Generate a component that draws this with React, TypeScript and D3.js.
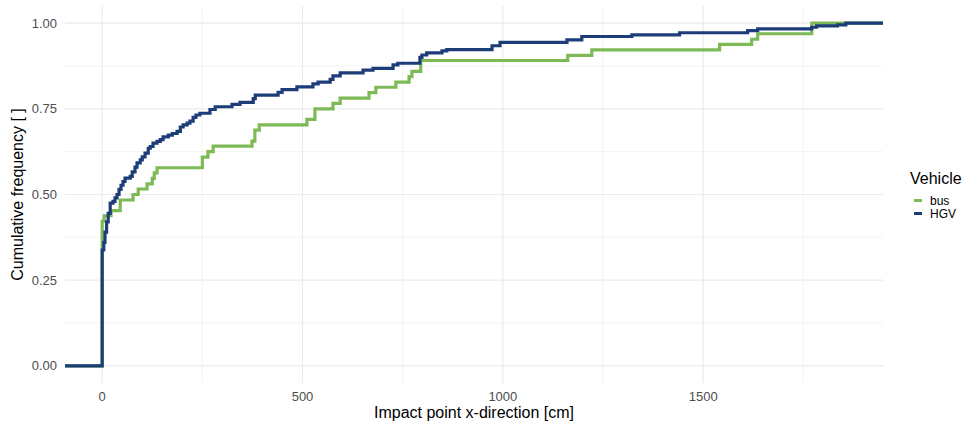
import { useEffect, useRef } from "react";
import * as d3 from "d3";

// ECDF break points (x in cm, cumulative share)
const busX = [0, 5, 22, 45, 77, 90, 112, 125, 130, 137, 250, 264, 277, 374, 381, 392, 511, 531, 576, 594, 666, 683, 733, 766, 773, 795, 1162, 1222, 1541, 1621, 1636, 1771];
const busF = [0.422, 0.438, 0.453, 0.484, 0.5, 0.516, 0.531, 0.547, 0.563, 0.578, 0.609, 0.625, 0.641, 0.656, 0.688, 0.703, 0.719, 0.75, 0.766, 0.781, 0.797, 0.813, 0.828, 0.844, 0.859, 0.891, 0.906, 0.922, 0.938, 0.953, 0.969, 1.0];

const hgvX = [0, 4, 7, 11, 15, 20, 27, 32, 37, 42, 47, 52, 57, 70, 75, 82, 87, 95, 100, 107, 115, 120, 127, 137, 145, 152, 165, 175, 187, 195, 202, 212, 219, 227, 234, 244, 269, 282, 324, 344, 377, 382, 439, 449, 486, 526, 539, 569, 576, 594, 651, 676, 726, 738, 793, 798, 810, 848, 860, 973, 993, 1160, 1197, 1322, 1441, 1611, 1636, 1771, 1783, 1835, 1856];
const hgvF = [0.338, 0.36, 0.39, 0.42, 0.445, 0.475, 0.48, 0.49, 0.5, 0.515, 0.527, 0.538, 0.548, 0.553, 0.566, 0.58, 0.592, 0.601, 0.61, 0.621, 0.635, 0.64, 0.65, 0.655, 0.66, 0.668, 0.673, 0.678, 0.684, 0.697, 0.703, 0.708, 0.714, 0.725, 0.732, 0.737, 0.748, 0.756, 0.763, 0.769, 0.78, 0.79, 0.798, 0.806, 0.814, 0.823, 0.828, 0.836, 0.846, 0.855, 0.863, 0.868, 0.878, 0.883, 0.9, 0.907, 0.913, 0.919, 0.923, 0.934, 0.944, 0.951, 0.961, 0.966, 0.972, 0.978, 0.983, 0.988, 0.992, 0.995, 1.0];

const vehicles = ["bus", "HGV"];
const colors = ["#7DBA55", "#1D3D78"];

const xTicks = [0, 500, 1000, 1500];
const xMinor = [250, 750, 1250, 1750];
const yTicks = [0, 0.25, 0.5, 0.75, 1];
const yMinor = [0.125, 0.375, 0.625, 0.875];

const App = () => {
  const svgRef = useRef(null);

  useEffect(() => {
    if (!svgRef.current) return;
    const svg = d3.select(svgRef.current);
    svg.selectAll("*").remove();

    const w = 967;
    const h = 430;
    const panel = { left: 65, right: 883, top: 6, bottom: 383 };
    const font = "Liberation Sans, Arial, sans-serif";

    svg.attr("width", w).attr("height", h);

    const xMax = d3.max([...busX, ...hgvX]);
    const xScale = d3
      .scaleLinear()
      .domain([-0.05 * xMax, 1.05 * xMax])
      .range([panel.left, panel.right]);
    const yScale = d3
      .scaleLinear()
      .domain([-0.05, 1.05])
      .range([panel.bottom, panel.top]);

    // grid
    const grid = svg.append("g");
    const vGrid = (vals, sw) =>
      grid
        .append("g")
        .selectAll("line")
        .data(vals)
        .join("line")
        .attr("x1", (d) => xScale(d))
        .attr("x2", (d) => xScale(d))
        .attr("y1", panel.top)
        .attr("y2", panel.bottom)
        .attr("stroke", "#EBEBEB")
        .attr("stroke-width", sw);
    const hGrid = (vals, sw) =>
      grid
        .append("g")
        .selectAll("line")
        .data(vals)
        .join("line")
        .attr("x1", panel.left)
        .attr("x2", panel.right)
        .attr("y1", (d) => yScale(d))
        .attr("y2", (d) => yScale(d))
        .attr("stroke", "#EBEBEB")
        .attr("stroke-width", sw);
    vGrid(xMinor, 0.6);
    hGrid(yMinor, 0.6);
    vGrid(xTicks, 1.2);
    hGrid(yTicks, 1.2);

    // ecdf steps, padded to the panel edges
    const step = d3
      .line()
      .x((d) => d[0])
      .y((d) => d[1])
      .curve(d3.curveStepAfter);

    const series = [
      { xs: busX, fs: busF },
      { xs: hgvX, fs: hgvF },
    ];
    series.forEach((s, i) => {
      const pts = [[panel.left, yScale(0)]];
      s.xs.forEach((x, j) => pts.push([xScale(x), yScale(s.fs[j])]));
      pts.push([panel.right, yScale(s.fs[s.fs.length - 1])]);
      svg
        .append("path")
        .datum(pts)
        .attr("fill", "none")
        .attr("stroke", colors[i])
        .attr("stroke-width", 3.2)
        .attr("d", step);
    });

    // tick labels
    svg
      .append("g")
      .selectAll("text")
      .data(xTicks)
      .join("text")
      .attr("x", (d) => xScale(d))
      .attr("y", 401)
      .attr("text-anchor", "middle")
      .attr("font-family", font)
      .attr("font-size", 13)
      .attr("fill", "#4D4D4D")
      .text((d) => d3.format("d")(d));
    svg
      .append("g")
      .selectAll("text")
      .data(yTicks)
      .join("text")
      .attr("x", 57)
      .attr("y", (d) => yScale(d))
      .attr("dy", "0.35em")
      .attr("text-anchor", "end")
      .attr("font-family", font)
      .attr("font-size", 13)
      .attr("fill", "#4D4D4D")
      .text((d) => d3.format(".2f")(d));

    // axis titles
    svg
      .append("text")
      .attr("x", (panel.left + panel.right) / 2)
      .attr("y", 418)
      .attr("text-anchor", "middle")
      .attr("font-family", font)
      .attr("font-size", 16)
      .attr("fill", "#000")
      .text("Impact point x-direction [cm]");
    svg
      .append("text")
      .attr("transform", `translate(23, ${(panel.top + panel.bottom) / 2}) rotate(-90)`)
      .attr("text-anchor", "middle")
      .attr("font-family", font)
      .attr("font-size", 16)
      .attr("fill", "#000")
      .text("Cumulative frequency [ ]");

    // legend
    const legend = svg.append("g").attr("transform", "translate(910, 0)");
    legend
      .append("text")
      .attr("x", 0)
      .attr("y", 184)
      .attr("font-family", font)
      .attr("font-size", 16)
      .attr("fill", "#000")
      .text("Vehicle");
    vehicles.forEach((v, i) => {
      const cy = 200.5 + i * 13;
      legend
        .append("line")
        .attr("x1", 4)
        .attr("x2", 12)
        .attr("y1", cy)
        .attr("y2", cy)
        .attr("stroke", colors[i])
        .attr("stroke-width", 3);
      legend
        .append("text")
        .attr("x", 20)
        .attr("y", cy)
        .attr("dy", "0.35em")
        .attr("font-family", font)
        .attr("font-size", 12)
        .attr("fill", "#000")
        .text(v);
    });
  }, []);

  return (
    <div style={{ position: "absolute", left: 0, top: 0 }}>
      <svg ref={svgRef} />
    </div>
  );
};

export default App;
